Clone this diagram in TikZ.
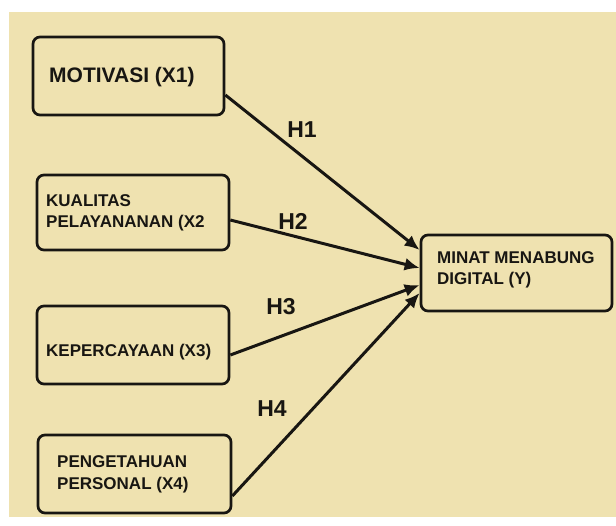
\documentclass[tikz,border=0pt]{standalone}
\usepackage{fontspec}
\setmainfont{Liberation Sans}
\usetikzlibrary{arrows.meta}
\definecolor{bg}{RGB}{239,226,176}
\definecolor{ink}{RGB}{24,22,18}
\begin{document}
\begin{tikzpicture}[x=1pt,y=-1pt,
 box/.style={draw=ink, line width=2.7pt, rounded corners=7pt, inner sep=0pt},
 lbl/.style={font=\bfseries\fontsize{17}{21}\selectfont, anchor=west, align=left, inner sep=0pt, text=ink},
 hyp/.style={font=\bfseries\fontsize{23}{27}\selectfont, inner sep=0pt, text=ink},
 conn/.style={draw=ink, line width=3pt, -{Latex[length=15pt,width=13pt]}}]
\useasboundingbox (0,0) rectangle (616,525);
\fill[white] (0,0) rectangle (616,525);
\fill[bg] (9,12) rectangle (616,517);
% boxes
\node[box, minimum width=191pt, minimum height=78pt] (x1) at (128.5,76) {};
\node[box, minimum width=192pt, minimum height=75pt] (x2) at (133,212.5) {};
\node[box, minimum width=192pt, minimum height=78pt] (x3) at (133,345) {};
\node[box, minimum width=193pt, minimum height=78pt] (x4) at (134.5,474) {};
\node[box, minimum width=191pt, minimum height=76pt] (y) at (516.5,273) {};
% texts
\node[lbl, font=\bfseries\fontsize{21}{25}\selectfont] (t1) at (49,77) {MOTIVASI (X1)};
\node[lbl] (t2) at (46,212.5) {KUALITAS\\PELAYANANAN (X2};
\node[lbl] (t3) at (46,352) {KEPERCAYAAN (X3)};
\node[lbl, font=\bfseries\fontsize{17}{22}\selectfont] (t4) at (57,474) {PENGETAHUAN\\PERSONAL (X4)};
\node[lbl] (ty) at (437,269.5) {MINAT MENABUNG\\DIGITAL (Y)};
% connectors
\draw[conn] ([yshift=-19pt]x1.east) -- ([yshift=23pt]y.west);
\draw[conn] ([yshift=-7.5pt]x2.east) -- ([yshift=5pt]y.west);
\draw[conn] ([yshift=-10pt]x3.east) -- ([yshift=-12pt]y.west);
\draw[conn] ([yshift=-22pt]x4.east) -- ([yshift=-20pt]y.west);
% hypothesis labels
\node[hyp] (h1) at (302,130) {H1};
\node[hyp] (h2) at (293,221) {H2};
\node[hyp] (h3) at (281,307) {H3};
\node[hyp] (h4) at (272,409) {H4};
\end{tikzpicture}
\end{document}
